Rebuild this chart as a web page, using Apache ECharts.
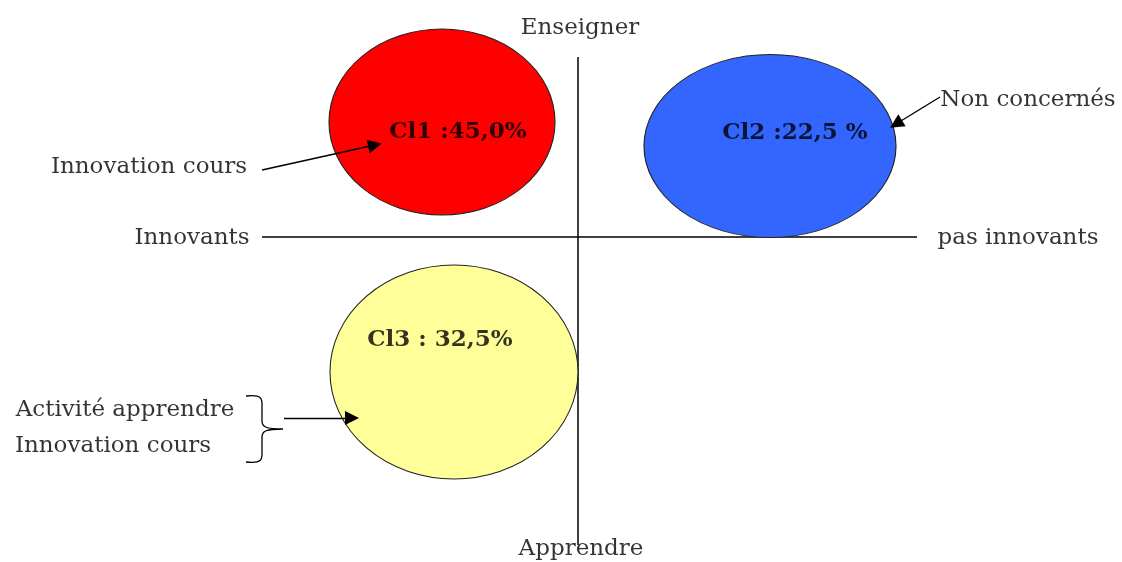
<!DOCTYPE html>
<html>
<head>
<meta charset="utf-8">
<script src="https://cdn.jsdelivr.net/npm/echarts@6/dist/echarts.min.js"></script>
<style>
  html, body { margin: 0; padding: 0; background: #fff; }
  #main { width: 1122px; height: 562px; }
</style>
</head>
<body>
<div id="main"></div>
<script>
// clusters
const clusterNames = ['Cl1 :45,0%', 'Cl2 :22,5 %', 'Cl3 : 32,5%']
const clusterShares = [45.0, 22.5, 32.5]
const clusterColors = ['#ff0000', '#3366ff', '#ffff99']
// ellipse centre and size in plane units (plane is 1122 x 562, y downwards)
const clusterCentres = [[442, 122], [770, 146], [454, 372]]
const clusterSizes = [[226, 186], [252, 183], [248, 214]]
const clusterLabelPos = [[458, 132], [795, 133], [440, 340]]

// axes of the plane
const axisH = [[262, 237], [917, 237]]
const axisV = [[578, 57], [578, 545]]
const axisNames = ['Enseigner', 'Apprendre', 'Innovants', 'pas innovants']
const axisNamePos = [[580, 28], [581, 549], [192, 238], [1018, 238]]

// annotations
const notes = ['Innovation cours', 'Non concernés', 'Activité apprendre', 'Innovation cours']
const notePos = [[149, 167], [1028, 100], [125, 410], [113, 446]]
const arrows = [
  [[262, 170], [375, 145]],
  [[940, 97], [896, 124]],
  [[284, 418], [352, 418]]
]

let chart = echarts.init(document.getElementById('main'))

let serif = 'DejaVu Serif'

let option = {
  animation: false,
  grid: { left: 0, right: 0, top: 0, bottom: 0 },
  xAxis: { type: 'value', min: 0, max: 1122, show: false },
  yAxis: { type: 'value', min: 0, max: 562, inverse: true, show: false },
  series: [
    {
      // axis lines
      type: 'lines',
      coordinateSystem: 'cartesian2d',
      z: 1,
      lineStyle: { color: '#000', width: 1.5, opacity: 1 },
      symbol: 'none',
      data: [{ coords: axisH }, { coords: axisV }]
    },
    {
      type: 'scatter',
      z: 2,
      symbol: 'circle',
      data: clusterCentres.map((c, i) => ({
        value: c,
        name: clusterNames[i],
        share: clusterShares[i],
        symbolSize: clusterSizes[i],
        itemStyle: { color: clusterColors[i], borderColor: '#222', borderWidth: 1, opacity: 1 }
      })),
      label: { show: false }
    },
    {
      // cluster labels
      type: 'scatter',
      z: 3,
      symbolSize: 0,
      data: clusterLabelPos.map((p, i) => ({ value: p, name: clusterNames[i] })),
      label: {
        show: true, position: 'inside', formatter: '{b}',
        color: '#000', fontFamily: serif, fontWeight: 'bold', fontSize: 23
      }
    },
    {
      // axis names and notes
      type: 'scatter',
      z: 3,
      symbolSize: 0,
      data: axisNames.map((n, i) => ({ value: axisNamePos[i], name: n }))
        .concat(notes.map((n, i) => ({ value: notePos[i], name: n }))),
      label: {
        show: true, position: 'inside', formatter: '{b}',
        color: '#000', fontFamily: serif, fontSize: 23
      }
    },
    {
      type: 'lines',
      coordinateSystem: 'cartesian2d',
      z: 4,
      symbol: ['none', 'triangle'],
      symbolSize: [0, 14],
      lineStyle: { color: '#000', width: 1.4, opacity: 1 },
      itemStyle: { color: '#000' },
      data: arrows.map(a => ({ coords: a }))
    },
    {
      // curly brace
      type: 'custom',
      z: 4,
      data: [[262, 396, 283, 462]],
      renderItem: function (params, api) {
        let p0 = api.coord([api.value(0), api.value(1)])
        let p1 = api.coord([api.value(2), api.value(3)])
        let x0 = p0[0] - 16, xm = p0[0], xt = p1[0]
        let y0 = p0[1], y1 = p1[1], ym = (y0 + y1) / 2
        let path = 'M' + x0 + ',' + y0 +
          ' C' + (xm + 2) + ',' + (y0 - 2) + ' ' + (xm) + ',' + (y0 + 4) + ' ' + xm + ',' + (y0 + 12) +
          ' L' + xm + ',' + (ym - 8) +
          ' C' + xm + ',' + (ym - 2) + ' ' + (xm + 4) + ',' + ym + ' ' + xt + ',' + ym +
          ' C' + (xm + 4) + ',' + ym + ' ' + xm + ',' + (ym + 2) + ' ' + xm + ',' + (ym + 8) +
          ' L' + xm + ',' + (y1 - 12) +
          ' C' + xm + ',' + (y1 - 4) + ' ' + (xm + 2) + ',' + (y1 + 2) + ' ' + x0 + ',' + y1
        return {
          type: 'path',
          shape: { pathData: path },
          style: { fill: 'none', stroke: '#000', lineWidth: 1.3 }
        }
      }
    }
  ]
}
chart.setOption(option)
</script>
</body>
</html>
